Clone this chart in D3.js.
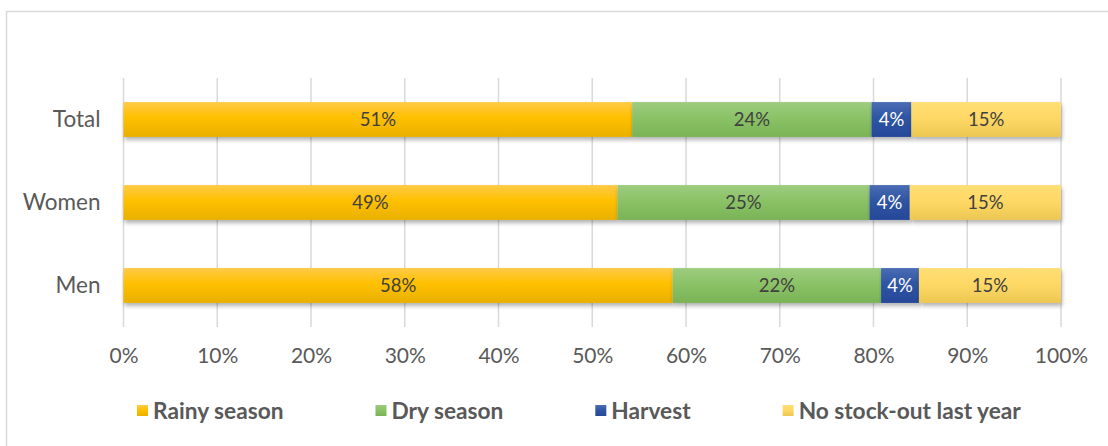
<!DOCTYPE html>
<html>
<head>
<meta charset="utf-8">
<script src="https://cdn.jsdelivr.net/npm/d3@7"></script>
<style>
  body { margin: 0; background: #fff; }
  svg { display: block; font-family: Lato, "Open Sans", sans-serif; }
</style>
</head>
<body>
<div id="chart"></div>
<script>
// Data
const groups = ["Total", "Women", "Men"];
const seriesNames = ["Rainy season", "Dry season", "Harvest", "No stock-out last year"];
const rainy = [51, 49, 58];
const dry = [24, 25, 22];
const harvest = [4, 4, 4];
const noStockOut = [15, 15, 15];
const tickValues = [0, 0.1, 0.2, 0.3, 0.4, 0.5, 0.6, 0.7, 0.8, 0.9, 1];

const width = 1108;
const height = 446;

// gradient stops for each series: top, middle, bottom
const colors = [
  ["#ffca48", "#ffc000", "#e9b000"],
  ["#9dcc7e", "#8bc267", "#7ab356"],
  ["#4b6db4", "#2f55a3", "#264899"],
  ["#ffde74", "#ffd966", "#ebc752"]
];
const labelColors = ["#404040", "#404040", "#ffffff", "#404040"];

const svg = d3.select("#chart")
  .append("svg")
  .attr("width", width)
  .attr("height", height);

const defs = svg.append("defs");

colors.forEach((c, i) => {
  const g = defs.append("linearGradient")
    .attr("id", "grad" + i)
    .attr("x1", 0).attr("y1", 0)
    .attr("x2", 0).attr("y2", 1);
  g.append("stop").attr("offset", "0%").attr("stop-color", c[0]);
  g.append("stop").attr("offset", "45%").attr("stop-color", c[1]);
  g.append("stop").attr("offset", "100%").attr("stop-color", c[2]);
});

const shadow = defs.append("filter")
  .attr("id", "shadow")
  .attr("x", "-5%").attr("y", "-20%")
  .attr("width", "110%").attr("height", "160%");
shadow.append("feDropShadow")
  .attr("dx", 1)
  .attr("dy", 3)
  .attr("stdDeviation", 2)
  .attr("flood-color", "#000")
  .attr("flood-opacity", 0.3);

// outer chart border
svg.append("rect")
  .attr("x", 6.5)
  .attr("y", 11.5)
  .attr("width", width + 10)
  .attr("height", height + 10)
  .attr("fill", "none")
  .attr("stroke", "#d9d9d9")
  .attr("stroke-width", 1.5);

// build the table: each row normalised to 100%
const table = groups.map((g, i) => {
  const vals = [rainy[i], dry[i], harvest[i], noStockOut[i]];
  const row = { group: g };
  seriesNames.forEach((s, j) => { row[s] = vals[j]; });
  return row;
});

const stack = d3.stack()
  .keys(seriesNames)
  .offset(d3.stackOffsetExpand);
const stacked = stack(table);

const plot = { left: 123.5, right: 1061, top: 78, bottom: 327 };

const xScale = d3.scaleLinear()
  .domain([0, 1])
  .range([plot.left, plot.right]);

const yScale = d3.scaleBand()
  .domain(groups)
  .range([plot.top, plot.bottom])
  .paddingInner(0.58)
  .paddingOuter(0.29);

// gridlines
svg.append("g")
  .selectAll("line")
  .data(tickValues)
  .enter()
  .append("line")
    .attr("x1", d => xScale(d))
    .attr("x2", d => xScale(d))
    .attr("y1", plot.top)
    .attr("y2", plot.bottom)
    .attr("stroke", "#d9d9d9")
    .attr("stroke-width", 1.5);

// x tick labels
const xAxis = svg.append("g")
  .attr("transform", `translate(0, ${plot.bottom})`)
  .call(d3.axisBottom(xScale)
    .tickValues(tickValues)
    .tickFormat(d3.format(".0%"))
    .tickSize(0)
    .tickPadding(21));
xAxis.select(".domain").remove();
xAxis.selectAll("text")
  .attr("fill", "#595959")
  .attr("font-size", 21)
  .attr("font-family", "Lato, 'Open Sans', sans-serif");

// category labels
const yAxis = svg.append("g")
  .attr("transform", `translate(${plot.left}, 0)`)
  .call(d3.axisLeft(yScale).tickSize(0).tickPadding(23));
yAxis.select(".domain").remove();
yAxis.selectAll("text")
  .attr("fill", "#595959")
  .attr("font-size", 22.5)
  .attr("font-family", "Lato, 'Open Sans', sans-serif");

// bars
const layers = svg.append("g")
  .selectAll("g")
  .data(stacked)
  .enter()
  .append("g")
    .attr("fill", (d, i) => `url(#grad${i})`);

layers.selectAll("rect")
  .data(d => d)
  .enter()
  .append("rect")
    .attr("x", d => xScale(d[0]))
    .attr("y", d => yScale(d.data.group))
    .attr("width", d => xScale(d[1]) - xScale(d[0]))
    .attr("height", yScale.bandwidth())
    .attr("filter", "url(#shadow)");

// data labels
stacked.forEach((layer, i) => {
  svg.append("g")
    .selectAll("text")
    .data(layer)
    .enter()
    .append("text")
      .attr("x", d => (xScale(d[0]) + xScale(d[1])) / 2)
      .attr("y", d => yScale(d.data.group) + yScale.bandwidth() / 2)
      .attr("dy", "0.35em")
      .attr("text-anchor", "middle")
      .attr("font-size", 18.5)
      .attr("fill", labelColors[i])
      .text(d => d.data[layer.key] + "%");
});

// legend
const legend = svg.append("g")
  .attr("transform", "translate(137, 411)");
let lx = 0;
seriesNames.forEach((name, i) => {
  const item = legend.append("g").attr("transform", `translate(${lx}, 0)`);
  item.append("rect")
    .attr("x", 0)
    .attr("y", -6)
    .attr("width", 11)
    .attr("height", 11)
    .attr("fill", `url(#grad${i})`);
  const t = item.append("text")
    .attr("x", 16)
    .attr("dy", "0.35em")
    .attr("font-size", 22.7)
    .attr("font-weight", "bold")
    .attr("fill", "#595959")
    .text(name);
  lx += 16 + t.node().getComputedTextLength() + 92;
});
</script>
</body>
</html>
